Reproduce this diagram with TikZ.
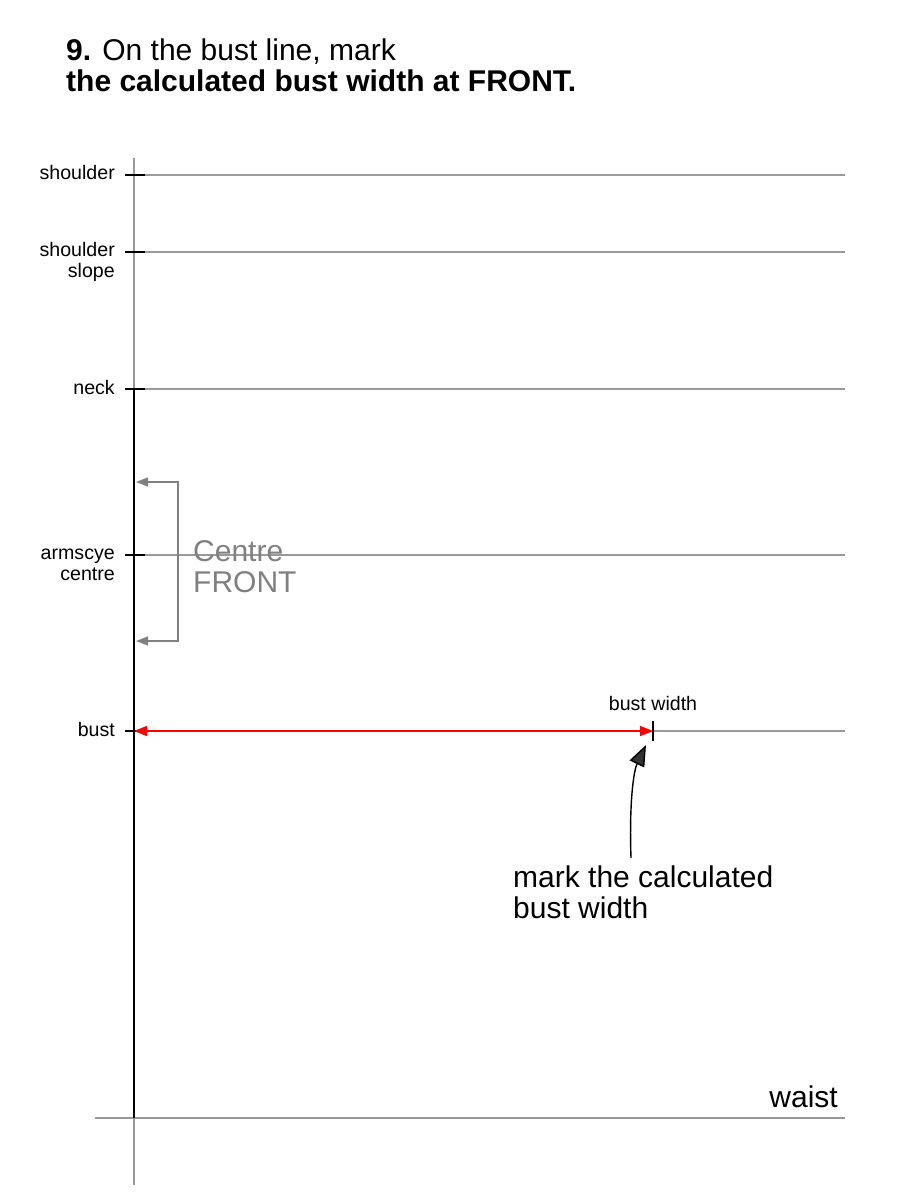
\documentclass[tikz,border=0pt]{standalone}
\usepackage{fontspec}
\setmainfont{Liberation Sans}
\usetikzlibrary{positioning,arrows.meta}

\begin{document}
\begin{tikzpicture}[x=1pt,y=-1pt,
	guide/.style={draw=black!40,line width=1.4pt},
	marktick/.style={draw=black,line width=1.8pt},
	lbl/.style={font=\fontsize{19.6}{21}\selectfont,align=right,anchor=base east,inner sep=0pt},
	big/.style={font=\fontsize{30}{31}\selectfont,align=left,inner sep=0pt}]
	\useasboundingbox (0,0) rectangle (900,1200);
	\node[big,anchor=base west] (title) at (66,91) {\textbf{9.} On the bust line, mark\\\textbf{the calculated bust width at FRONT.}};
	\coordinate (axis-top) at (134,158);
	\coordinate (axis-bot) at (134,1185);
	\draw[guide] (axis-top) -- (axis-bot);
	\foreach \lvl/\y in {shoulder/175,slope/252,neck/389,armscye/555,bust/731}{
		\coordinate (\lvl-l) at (134,\y);
		\coordinate (\lvl-r) at (845,\y);
		\draw[guide] (\lvl-l) -- (\lvl-r);
		\draw[marktick] ([xshift=-9pt]\lvl-l) -- ([xshift=11pt]\lvl-l);
	}
	\coordinate (waist-l) at (134,1118);
	\coordinate (waist-w) at (95,1118);
	\coordinate (waist-r) at (845,1118);
	\draw[guide] (waist-w) -- (waist-r);
	\draw[line width=1.8pt] (neck-l) -- (waist-l);
	\node[lbl] (shoulder-lbl) at (115,179) {shoulder};
	\node[lbl] (slope-lbl) at (115,277) {shoulder\\slope};
	\node[lbl] (neck-lbl) at (115,394) {neck};
	\node[lbl] (armscye-lbl) at (115,580) {armscye\\centre};
	\node[lbl] (bust-lbl) at (115,736) {bust};
	\coordinate (cf-top) at (136,482);
	\coordinate (cf-bot) at (136,641);
	\draw[draw=black!50,line width=1.4pt,{Triangle[length=12pt,width=9pt]}-{Triangle[length=12pt,width=9pt]}] (cf-top) -- ++(42,0) |- (cf-bot);
	\node[big,anchor=base west,text=black!50] (cf-lbl) at (193,592) {Centre\\FRONT};
	\coordinate (bw) at (653,731);
	\draw[red,line width=1.5pt,{Triangle[length=13pt,width=10pt]}-{Triangle[length=13pt,width=10pt]}] (bust-l) -- (bw);
	\draw[line width=1.4pt] ([yshift=10pt]bw) -- ([yshift=-10pt]bw);
	\node[lbl,anchor=south] (bw-lbl) [above=20pt of bw] {bust width};
	\node[big,anchor=base west] (note) at (513,918) {mark the calculated\\bust width};
	\coordinate (note-from) at (631,858);
	\coordinate (note-to) at (646,745);
	\draw[line width=1.4pt,-{Triangle[length=21pt,width=16pt,fill=black!80]}] (note-from) .. controls (629,800) and (634,770) .. (note-to);
	\node[big,anchor=base east] (waist-lbl) at (838,1107) {waist};
\end{tikzpicture}
\end{document}
